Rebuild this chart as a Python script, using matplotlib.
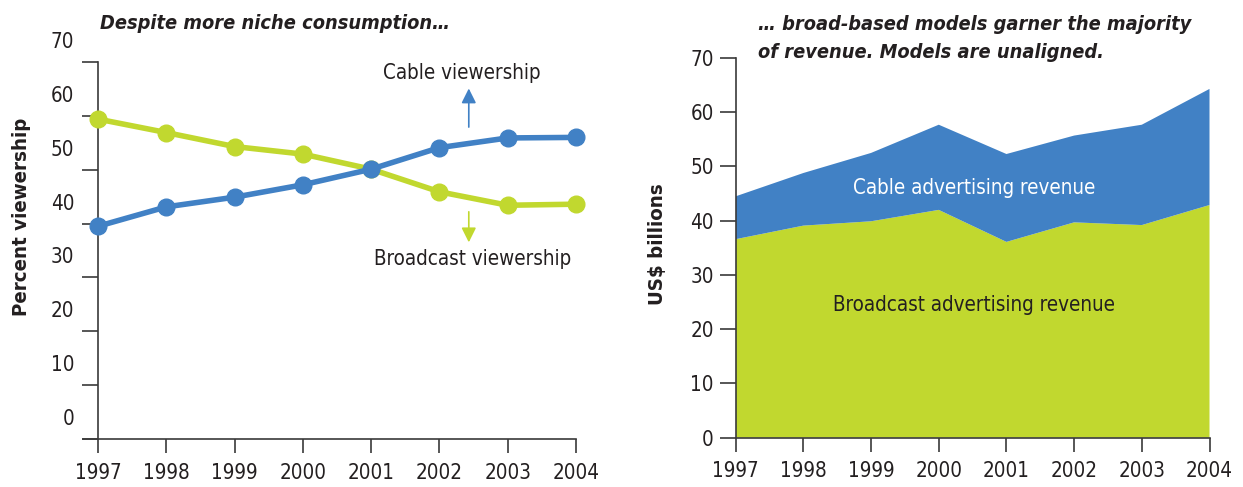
import numpy as np
import matplotlib
matplotlib.use("Agg")
import matplotlib.pyplot as plt
from matplotlib.transforms import ScaledTranslation

plt.rcParams['font.family'] = ['DejaVu Sans']
plt.rcParams['font.stretch'] = 'condensed'

# Data
years = [1997, 1998, 1999, 2000, 2001, 2002, 2003, 2004]
cable_view = [39.5, 43.1, 44.9, 47.2, 50.1, 54.1, 55.9, 56.0]
broadcast_view = [59.4, 56.9, 54.3, 52.9, 50.1, 45.9, 43.4, 43.6]
broadcast_rev = [36.6, 39.1, 39.9, 42.0, 36.1, 39.7, 39.2, 42.9]
cable_rev = [7.9, 9.7, 12.6, 15.7, 16.2, 16.0, 18.5, 21.4]
yticks = [0, 10, 20, 30, 40, 50, 60, 70]

BLUE = '#4181c5'
GREEN = '#c1d82f'
DARK = '#231f20'
AXC = '#3a3a3a'
W, H = 1243, 487
TICK_FS = 14.8
NOTE_FS = 14.8
TITLE_FS = 14.3

fig = plt.figure(figsize=(W / 100, H / 100), dpi=100)

def px_box(l, r, t, b):
    return [l / W, (H - b) / H, (r - l) / W, (b - t) / H]

# ---- left: viewership lines ----
ax1 = fig.add_axes(px_box(83, 576, 62, 439))
ax1.set_xlim(1997 - 15 / 68.29, 2004)
ax1.set_ylim(0, 70)
ax1.plot(years, broadcast_view, color=GREEN, lw=4, marker='o', ms=12, clip_on=False, zorder=3)
ax1.plot(years, cable_view, color=BLUE, lw=4, marker='o', ms=12, clip_on=False, zorder=4)
ax1.spines['left'].set_position(('data', 1997))
for s in ['top', 'right']:
    ax1.spines[s].set_visible(False)
ax1.set_xticks(years)
ax1.set_yticks(yticks)
ax1.tick_params(axis='y', length=11.5, width=1.2, color=AXC, labelsize=TICK_FS, labelcolor=DARK, pad=5.5)
ax1.tick_params(axis='x', length=10, width=1.2, color=AXC, labelsize=TICK_FS, labelcolor=DARK, pad=7.5)
# labels sit above their tick marks in the original
for lab in ax1.get_yticklabels():
    lab.set_transform(lab.get_transform() + ScaledTranslation(0, 22 / 100, fig.dpi_scale_trans))

ax1.annotate('', xy=(2002.43, 65.6), xytext=(2002.43, 57.4),
             arrowprops=dict(arrowstyle='-|>', color=BLUE, lw=1.2, mutation_scale=22))
ax1.annotate('', xy=(2002.43, 36.0), xytext=(2002.43, 42.7),
             arrowprops=dict(arrowstyle='-|>', color=GREEN, lw=1.2, mutation_scale=22))
ax1.text(2002.33, 68.0, 'Cable viewership', ha='center', va='center', fontsize=NOTE_FS, color=DARK)
ax1.text(2002.48, 33.4, 'Broadcast viewership', ha='center', va='center', fontsize=NOTE_FS, color=DARK)

# ---- right: revenue stacked area ----
ax2 = fig.add_axes(px_box(735.7, 1209.5, 58, 437.7))
ax2.stackplot(years, broadcast_rev, cable_rev, colors=[GREEN, BLUE], lw=0)
ax2.set_xlim(1997, 2004)
ax2.set_ylim(0, 70)
for s in ['top', 'right']:
    ax2.spines[s].set_visible(False)
ax2.set_xticks(years)
ax2.set_yticks(yticks)
ax2.tick_params(axis='y', length=11.5, width=1.2, color=AXC, labelsize=TICK_FS, labelcolor=DARK, pad=4.3)
ax2.tick_params(axis='x', length=10, width=1.2, color=AXC, labelsize=TICK_FS, labelcolor=DARK, pad=7)
ax2.text(2000.52, 46.0, 'Cable advertising revenue', ha='center', va='center', fontsize=NOTE_FS, color='white')
ax2.text(2000.52, 24.5, 'Broadcast advertising revenue', ha='center', va='center', fontsize=NOTE_FS, color=DARK)

for ax in (ax1, ax2):
    for s in ['left', 'bottom']:
        ax.spines[s].set_color(AXC)
        ax.spines[s].set_linewidth(1.2)

# titles and axis labels
tkw = dict(fontsize=TITLE_FS, fontweight='bold', style='italic', color=DARK, va='baseline', ha='left')
fig.text(100 / W, (H - 29) / H, 'Despite more niche consumption\u2026', **tkw)
fig.text(758 / W, (H - 30) / H, '\u2026 broad-based models garner the majority', **tkw)
fig.text(758 / W, (H - 58) / H, 'of revenue. Models are unaligned.', **tkw)
fig.text(22 / W, (H - 217) / H, 'Percent viewership', rotation=90, fontsize=14.7,
         fontweight='bold', color=DARK, ha='center', va='center')
fig.text(657 / W, (H - 244) / H, 'US$ billions', rotation=90, fontsize=14.7,
         fontweight='bold', color=DARK, ha='center', va='center')

fig.savefig('out.png', dpi=100)
